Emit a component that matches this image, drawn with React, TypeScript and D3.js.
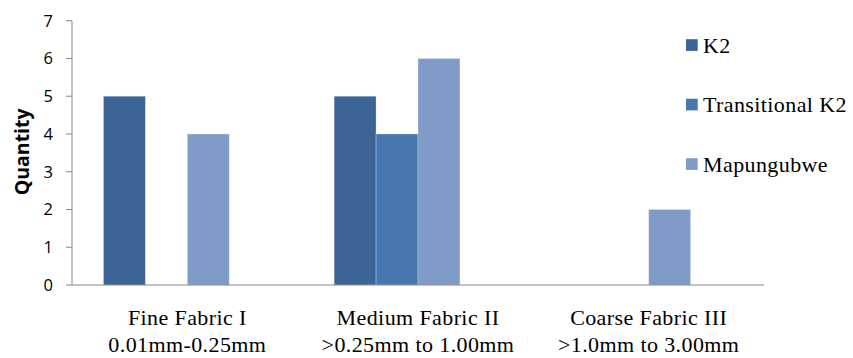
import React from "react";
import * as d3 from "d3";

const categoryLine1 = ["Fine Fabric I", "Medium Fabric II", "Coarse Fabric III"];
const categoryLine2 = ["0.01mm-0.25mm", ">0.25mm to 1.00mm", ">1.0mm to 3.00mm"];
const seriesNames = ["K2", "Transitional K2", "Mapungubwe"];
const k2Values = [5, 5, 0];
const transitionalValues = [0, 4, 0];
const mapungubweValues = [4, 6, 2];
const seriesColors = ["#3D6497", "#4876AE", "#7F9CC8"];
const yTicks = [0, 1, 2, 3, 4, 5, 6, 7];
const yLabel = "Quantity";

const W = 853;
const H = 358;
const serif = "'Liberation Serif', 'Times New Roman', serif";
const sans = "'Open Sans', 'Liberation Sans', sans-serif";

export default function App() {
  const seriesValues = [k2Values, transitionalValues, mapungubweValues];
  const x0 = d3.scaleBand<string>().domain(categoryLine1).range([72, 764]).padding(0);
  // four slots per category (the fourth is an empty slot, as in the original)
  const slots = [...seriesNames, "__empty"];
  const x1 = d3
    .scaleBand<string>()
    .domain(slots)
    .range([0, x0.bandwidth()])
    .paddingInner(0)
    .paddingOuter(0.75);
  const y = d3.scaleLinear().domain([0, 7]).range([285, 20.7]);

  const axisColor = "#868686";
  const serifSize = 22;
  const serifSpacing = 0.4;

  return (
    <svg
      width={W}
      height={H}
      style={{ position: "absolute", left: 0, top: 0, background: "#fff" }}
    >
      {/* bars */}
      {categoryLine1.map((cat, ci) =>
        seriesNames.map((s, si) => {
          const v = seriesValues[si][ci];
          if (!v) return null;
          const bx = (x0(cat) as number) + (x1(s) as number);
          return (
            <rect
              key={cat + s}
              x={bx}
              y={y(v)}
              width={x1.bandwidth()}
              height={y(0) - y(v)}
              fill={seriesColors[si]}
              stroke="#ffffff"
              strokeOpacity={0.35}
              strokeWidth={0.8}
            />
          );
        })
      )}

      {/* y axis */}
      <line x1={72} x2={72} y1={y(7)} y2={y(0)} stroke={axisColor} strokeWidth={1} />
      {yTicks.map((t) => (
        <g key={t}>
          <line x1={66} x2={72} y1={y(t)} y2={y(t)} stroke={axisColor} strokeWidth={1} />
          <text
            x={53}
            y={y(t)}
            dy="0.36em"
            textAnchor="end"
            fontFamily={sans}
            fontSize={16.5}
            fill="#000"
          >
            {t}
          </text>
        </g>
      ))}
      <text
        transform={`translate(29, ${(y(0) + y(7)) / 2 - 1}) rotate(-90)`}
        textAnchor="middle"
        fontFamily={sans}
        fontWeight="bold"
        fontSize={19.5}
        fill="#000"
      >
        {yLabel}
      </text>

      {/* x axis */}
      <line x1={72} x2={764} y1={y(0)} y2={y(0)} stroke={axisColor} strokeWidth={1} />
      {categoryLine1.map((cat, ci) => {
        const cx = (x0(cat) as number) + x0.bandwidth() / 2;
        return (
          <g key={cat}>
            <text
              x={cx}
              y={325}
              textAnchor="middle"
              fontFamily={serif}
              fontSize={serifSize}
              letterSpacing={serifSpacing}
              fill="#000"
            >
              {cat}
            </text>
            <text
              x={cx}
              y={351.5}
              textAnchor="middle"
              fontFamily={serif}
              fontSize={serifSize}
              letterSpacing={serifSpacing}
              fill="#000"
            >
              {categoryLine2[ci]}
            </text>
          </g>
        );
      })}

      {/* legend */}
      {seriesNames.map((s, i) => {
        const cy = 45 + i * 59.5;
        return (
          <g key={s}>
            <rect x={686} y={cy - 5.8} width={11.7} height={11.7} fill={seriesColors[i]} />
            <text
              x={703}
              y={cy + 7.5}
              fontFamily={serif}
              fontSize={serifSize}
              letterSpacing={serifSpacing}
              fill="#000"
            >
              {s}
            </text>
          </g>
        );
      })}
    </svg>
  );
}
